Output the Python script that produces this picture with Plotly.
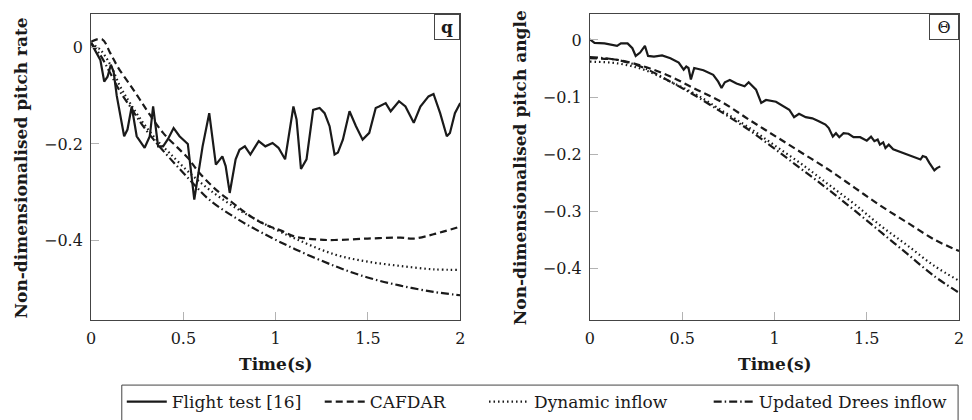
import plotly.graph_objects as go

# ---------------- data: pitch rate (left) ----------------
q_flight_t = [0, 0.05, 0.071, 0.089, 0.107, 0.122, 0.139, 0.157, 0.179, 0.197, 0.22, 0.247, 0.29, 0.318,
              0.336, 0.363, 0.39, 0.416, 0.447, 0.479, 0.524, 0.559, 0.604, 0.64, 0.676, 0.711, 0.729,
              0.751, 0.783, 0.804, 0.833, 0.863, 0.908, 0.944, 0.983, 1.015, 1.051, 1.096, 1.113,
              1.137, 1.167, 1.203, 1.238, 1.265, 1.292, 1.319, 1.337, 1.364, 1.4, 1.435, 1.471, 1.507,
              1.542, 1.56, 1.596, 1.623, 1.668, 1.703, 1.748, 1.784, 1.828, 1.855, 1.891, 1.927, 1.944,
              1.971, 2.0]
q_flight = [0.01, -0.025, -0.07, -0.06, -0.035, -0.05, -0.10, -0.136, -0.184, -0.170, -0.122, -0.184,
            -0.208, -0.184, -0.122, -0.205, -0.205, -0.19, -0.167, -0.184, -0.20, -0.316, -0.205, -0.136,
            -0.243, -0.226, -0.246, -0.302, -0.232, -0.212, -0.205, -0.222, -0.194, -0.205, -0.198,
            -0.208, -0.232, -0.122, -0.149, -0.252, -0.232, -0.129, -0.125, -0.136, -0.163, -0.222,
            -0.218, -0.191, -0.132, -0.163, -0.191, -0.177, -0.125, -0.122, -0.115, -0.132, -0.111,
            -0.122, -0.156, -0.122, -0.101, -0.096, -0.136, -0.184, -0.177, -0.136, -0.115]

q_cafdar_t = [0, 0.059, 0.104, 0.148, 0.211, 0.265, 0.318, 0.39, 0.461, 0.524, 0.586, 0.676, 0.765,
              0.836, 0.89, 0.962, 1.033, 1.105, 1.23, 1.319, 1.498, 1.676, 1.748, 1.855, 2.0]
q_cafdar = [0.013, 0.018, -0.011, -0.042, -0.077, -0.108, -0.139, -0.177, -0.205, -0.229, -0.26, -0.295,
            -0.322, -0.343, -0.357, -0.371, -0.381, -0.393, -0.399, -0.4, -0.397, -0.395, -0.397,
            -0.388, -0.372]

q_dyn_t = [0, 0.05, 0.104, 0.157, 0.211, 0.282, 0.354, 0.425, 0.533, 0.64, 0.783, 0.926, 1.105, 1.319,
           1.498, 1.676, 1.855, 2.0]
q_dyn = [0.01, -0.004, -0.035, -0.08, -0.115, -0.156, -0.191, -0.219, -0.26, -0.295, -0.333, -0.364,
         -0.397, -0.43, -0.445, -0.454, -0.461, -0.462]

q_drees_t = [0, 0.05, 0.104, 0.157, 0.211, 0.282, 0.354, 0.425, 0.533, 0.64, 0.783, 0.926, 1.105, 1.319,
             1.498, 1.676, 1.855, 2.0]
q_drees = [0.01, -0.015, -0.053, -0.091, -0.122, -0.163, -0.198, -0.229, -0.274, -0.316, -0.354, -0.385,
           -0.419, -0.454, -0.478, -0.495, -0.508, -0.515]

# ---------------- data: pitch angle (right) ----------------
th_flight_t = [0, 0.025, 0.079, 0.114, 0.147, 0.168, 0.204, 0.23, 0.248, 0.272, 0.298, 0.315, 0.347,
               0.391, 0.436, 0.481, 0.508, 0.522, 0.534, 0.547, 0.565, 0.615, 0.668, 0.695, 0.713, 0.731,
               0.758, 0.794, 0.838, 0.86, 0.874, 0.9, 0.928, 0.954, 1.008, 1.044, 1.08, 1.106, 1.133,
               1.169, 1.205, 1.24, 1.276, 1.294, 1.316, 1.333, 1.351, 1.374, 1.401, 1.428, 1.464, 1.5,
               1.523, 1.541, 1.559, 1.571, 1.589, 1.601, 1.619, 1.643, 1.678, 1.714, 1.75, 1.768, 1.791,
               1.803, 1.821, 1.839, 1.866, 1.88, 1.898]
th_flight = [0.001, -0.005, -0.006, -0.009, -0.0105, -0.006, -0.006, -0.0145, -0.028, -0.022, -0.0105,
             -0.028, -0.029, -0.027, -0.032, -0.0395, -0.052, -0.0465, -0.049, -0.069, -0.049, -0.053,
             -0.061, -0.073, -0.084, -0.074, -0.070, -0.076, -0.081, -0.074, -0.078, -0.087, -0.11,
             -0.105, -0.108, -0.115, -0.122, -0.135, -0.129, -0.135, -0.137, -0.142, -0.148, -0.154,
             -0.169, -0.163, -0.17, -0.163, -0.164, -0.17, -0.17, -0.176, -0.169, -0.177, -0.174, -0.183,
             -0.179, -0.189, -0.183, -0.191, -0.195, -0.199, -0.203, -0.205, -0.209, -0.203, -0.205,
             -0.215, -0.228, -0.224, -0.221]

th_model_t = [0, 0.15, 0.293, 0.436, 0.579, 0.722, 0.865, 1.008, 1.151, 1.294, 1.437, 1.58, 1.723,
              1.866, 2.0]
th_cafdar = [-0.032, -0.035, -0.0465, -0.064, -0.087, -0.11, -0.14, -0.169, -0.198, -0.227, -0.259,
             -0.291, -0.32, -0.349, -0.369]
th_dyn = [-0.038, -0.041, -0.052, -0.073, -0.096, -0.125, -0.154, -0.186, -0.218, -0.253, -0.288,
          -0.326, -0.36, -0.395, -0.421]
th_drees = [-0.030, -0.035, -0.049, -0.073, -0.099, -0.128, -0.158, -0.192, -0.227, -0.262, -0.299,
            -0.337, -0.375, -0.413, -0.442]

x_ticks = [0, 0.5, 1, 1.5, 2]
x_tick_labels = ["0", "0.5", "1", "1.5", "2"]
q_ticks = [0, -0.2, -0.4]
q_tick_labels = ["0", "−0.2", "−0.4"]
th_ticks = [0, -0.1, -0.2, -0.3, -0.4]
th_tick_labels = ["0", "−0.1", "−0.2", "−0.3", "−0.4"]

series_names = ["Flight test [16]", "CAFDAR", "Dynamic inflow", "Updated Drees inflow"]

# ---------------- figure ----------------
W, H = 972, 420
FONT = "DejaVu Serif, Liberation Serif, serif"
INK = "#1a1a1a"
FS = 16

styles = [
    dict(color=INK, width=2.2, dash="solid"),
    dict(color=INK, width=2.2, dash="7px,4px"),
    dict(color=INK, width=2.2, dash="1.5px,3px"),
    dict(color=INK, width=2.2, dash="8px,3px,1.5px,3px"),
]
legend_ids = ["legend", "legend2", "legend3", "legend4"]
legend_px = [118, 318, 484, 711]   # left edge of each legend entry, in pixels

fig = go.Figure()

left = [(q_flight_t, q_flight, "linear"), (q_cafdar_t, q_cafdar, "spline"),
        (q_dyn_t, q_dyn, "spline"), (q_drees_t, q_drees, "spline")]
right = [(th_flight_t, th_flight, "linear"), (th_model_t, th_cafdar, "spline"),
         (th_model_t, th_dyn, "spline"), (th_model_t, th_drees, "spline")]

for i, (xs, ys, shp) in enumerate(left):
    fig.add_trace(go.Scatter(x=xs, y=ys, mode="lines", line=dict(shape=shp, **styles[i]),
                             name=series_names[i], legendgroup=series_names[i], legend=legend_ids[i],
                             xaxis="x", yaxis="y", showlegend=True))
for i, (xs, ys, shp) in enumerate(right):
    fig.add_trace(go.Scatter(x=xs, y=ys, mode="lines", line=dict(shape=shp, **styles[i]),
                             name=series_names[i], legendgroup=series_names[i],
                             xaxis="x2", yaxis="y2", showlegend=False))

def px_x(p):
    return p / W

def px_y(p):
    return 1 - p / H

common_axis = dict(showgrid=False, zeroline=False, showline=True, linecolor="#444", linewidth=1,
                   mirror=True, ticks="inside", ticklen=8, tickcolor="#b3b3b3", tickwidth=1,
                   tickfont=dict(family=FONT, size=FS, color=INK))

layout_legends = {}
for lid, lx in zip(legend_ids, legend_px):
    layout_legends[lid] = dict(orientation="h", x=px_x(lx), y=px_y(403), xanchor="left",
                               yanchor="middle", borderwidth=0, bgcolor="rgba(0,0,0,0)",
                               font=dict(family=FONT, size=17, color=INK), itemwidth=40)

fig.update_layout(
    width=W, height=H,
    margin=dict(l=0, r=0, t=0, b=0),
    paper_bgcolor="white", plot_bgcolor="white",
    font=dict(family=FONT, color=INK),
    xaxis=dict(domain=[px_x(87), px_x(460)], range=[0, 2], tickvals=x_ticks, ticktext=x_tick_labels,
               anchor="y", ticklabelstandoff=4, **common_axis),
    yaxis=dict(domain=[px_y(321), px_y(14)], range=[-0.567, 0.0706], tickvals=q_ticks,
               ticktext=q_tick_labels, anchor="x", ticklabelstandoff=4, **common_axis),
    xaxis2=dict(domain=[px_x(591), px_x(964)], range=[0, 2], tickvals=x_ticks, ticktext=x_tick_labels,
                anchor="y2", ticklabelstandoff=4, **common_axis),
    yaxis2=dict(domain=[px_y(321), px_y(14)], range=[-0.49, 0.0454], tickvals=th_ticks,
                ticktext=th_tick_labels, anchor="x2", ticklabelstandoff=4, **common_axis),
    showlegend=True,
    **layout_legends,
)

# legend frame (runs past the bottom edge, as in the reference)
fig.add_shape(type="rect", xref="paper", yref="paper", x0=px_x(118), x1=px_x(963),
              y0=px_y(430), y1=px_y(386), line=dict(color="#444", width=1), layer="below")

ann = []
TFS = 17
ann.append(dict(text="<b>Non-dimensionalised pitch rate</b>", xref="paper", yref="paper",
                x=px_x(16), y=px_y(168), textangle=-90, showarrow=False,
                font=dict(family=FONT, size=TFS, color=INK), xanchor="center", yanchor="middle"))
ann.append(dict(text="<b>Non-dimensionalised pitch angle</b>", xref="paper", yref="paper",
                x=px_x(520), y=px_y(168), textangle=-90, showarrow=False,
                font=dict(family=FONT, size=TFS, color=INK), xanchor="center", yanchor="middle"))
ann.append(dict(text="<b>Time(s)</b>", xref="paper", yref="paper", x=px_x(273.5), y=px_y(365),
                showarrow=False, font=dict(family=FONT, size=TFS, color=INK),
                xanchor="center", yanchor="middle"))
ann.append(dict(text="<b>Time(s)</b>", xref="paper", yref="paper", x=px_x(777.5), y=px_y(365),
                showarrow=False, font=dict(family=FONT, size=TFS, color=INK),
                xanchor="center", yanchor="middle"))
# panel tags
ann.append(dict(text="<b>q</b>", xref="x domain", yref="y domain", x=1, y=1, xanchor="right",
                yanchor="top", showarrow=False, width=22, height=22, borderpad=1,
                bordercolor="#444", borderwidth=1, bgcolor="white",
                font=dict(family=FONT, size=17, color=INK)))
ann.append(dict(text="Θ", xref="x2 domain", yref="y2 domain", x=1, y=1, xanchor="right",
                yanchor="top", showarrow=False, width=26, height=22, borderpad=1,
                bordercolor="#444", borderwidth=1, bgcolor="white",
                font=dict(family=FONT, size=16, color=INK)))
fig.update_layout(annotations=ann)

fig.write_html("out.html", config={"displayModeBar": False, "staticPlot": True},
               post_script="document.body.style.margin='0px';")
